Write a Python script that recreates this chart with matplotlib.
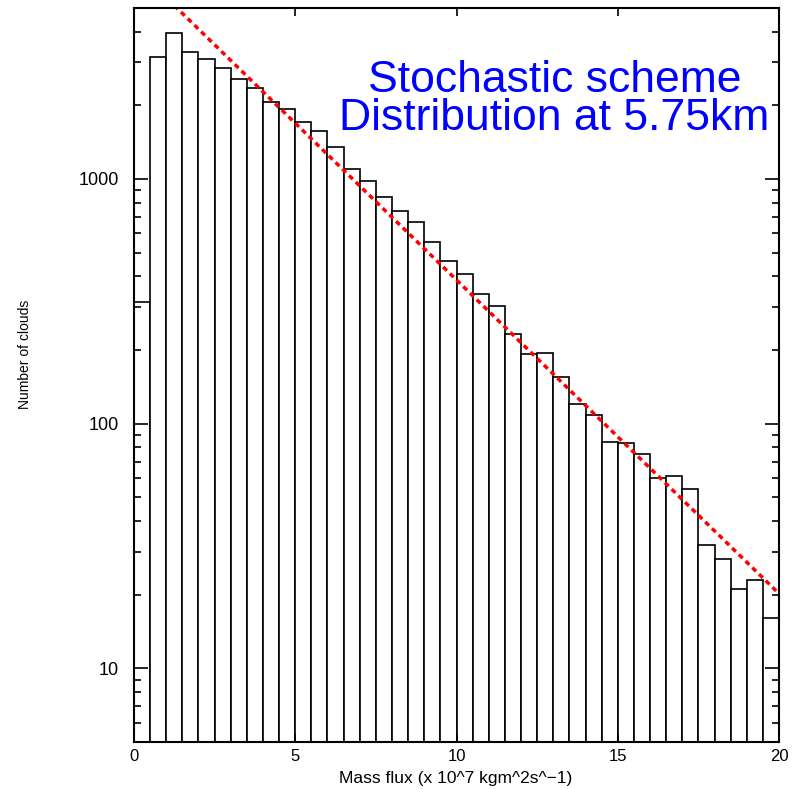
import matplotlib.pyplot as plt
import numpy as np
from matplotlib.ticker import LogLocator, NullFormatter, FixedLocator

### Data (bins of 0.5 from 0 to 20)
bin_width = 0.5
bin_left = np.arange(0, 20, bin_width)
counts = [314, 3155, 3955, 3305, 3105, 2850, 2563, 2355, 2070, 1938,
          1708, 1568, 1352, 1099, 979, 844, 741, 666, 551, 464,
          408, 338, 302, 232, 192, 195, 155, 120, 108, 84,
          83, 75, 60, 61, 54, 32, 28, 21, 23, 16]

### Exponential fit line (end points)
fit_x = [0, 20]
fit_y = [7400, 20.2]

plt.rcParams['font.family'] = ['Liberation Sans', 'DejaVu Sans']

fig = plt.figure(figsize=(7.96, 7.89), dpi=100)
ax = fig.add_axes([0.1683, 0.0596, 0.8104, 0.9303])

ax.bar(bin_left, counts, width=bin_width, align='edge', color='white',
       edgecolor='black', linewidth=1.2)
ax.plot(fit_x, fit_y, color='red', linewidth=2.5, dashes=[1.5, 1.2])

### Axes characteristics
ax.set_yscale('log')
ax.set_xlim(0, 20); ax.set_ylim(5, 5000)
ax.xaxis.set_major_locator(FixedLocator([0, 5, 10, 15, 20]))
ax.yaxis.set_major_locator(FixedLocator([10, 100, 1000]))
ax.yaxis.set_major_formatter(plt.FuncFormatter(lambda v, p: '%d' % v))
ax.yaxis.set_minor_locator(LogLocator(base=10, subs=np.arange(2, 10)))
ax.yaxis.set_minor_formatter(NullFormatter())
ax.tick_params(which='both', direction='in', top=True, right=True, width=1.2)
ax.tick_params(axis='y', which='major', length=10, pad=11, labelsize=13)
ax.tick_params(axis='y', which='minor', length=5)
ax.tick_params(axis='x', which='major', length=6, pad=5, labelsize=12)
for s in ax.spines.values():
    s.set_linewidth(1.5)

fig.text(25 / 796, 1 - 354 / 789, 'Number of clouds', rotation=90,
         ha='center', va='center', fontsize=10,
         family=['Liberation Sans Narrow', 'DejaVu Sans Condensed', 'Liberation Sans'])
fig.text(456 / 796, 1 - 779 / 789, 'Mass flux (x 10^7 kgm^2s^\u22121)',
         ha='center', va='center', fontsize=12.5)

ax.text(0.652, 0.834, 'Stochastic scheme\nDistribution at 5.75km',
        transform=ax.transAxes, ha='center', va='baseline',
        multialignment='center', linespacing=0.9, fontsize=32, color='blue')

fig.savefig('out.png', dpi=100)
